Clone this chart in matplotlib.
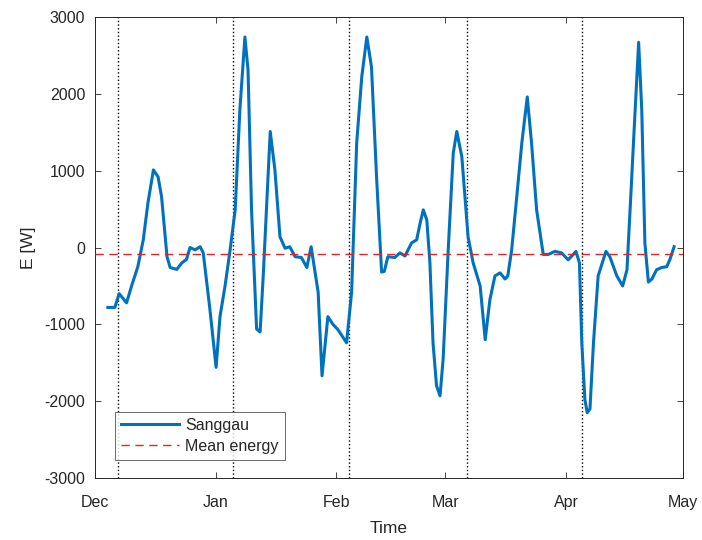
import matplotlib
matplotlib.use("Agg")
import matplotlib.pyplot as plt
import numpy as np
import datetime as dt

# Sampled energy series (days since 1 Dec) and values in W
day = [3.3, 5.1, 6.2, 8.1, 9.4, 11.0, 12.4, 13.6, 15.0, 16.2, 17.1, 18.5, 19.3, 21.0,
       22.3, 23.5, 24.4, 25.7, 27.0, 27.8, 29.5, 31.1, 32.1, 33.4, 34.7, 36.0, 37.2,
       38.5, 39.3, 40.2, 41.5, 42.4, 43.2, 45.0, 46.2, 47.5, 48.8, 50.0, 51.4, 53.0,
       54.4, 55.5, 57.3, 58.3, 59.8, 61.1, 62.4, 64.6, 65.9, 67.2, 68.5, 69.8, 71.0,
       72.3, 73.6, 74.3, 75.2, 77.0, 78.3, 79.6, 80.4, 81.3, 82.6, 83.5, 84.3, 85.2,
       86.0, 86.8, 87.7, 88.6, 89.4, 90.7, 92.0, 92.9, 94.2, 95.8, 97.1, 98.9, 100.2,
       101.4, 102.7, 104.0, 105.3, 106.0, 107.0, 108.3, 109.6, 111.0, 112.1, 113.4,
       115.1, 116.4, 118.1, 119.8, 121.5, 122.8, 123.5, 124.4, 125.0, 125.8, 126.4,
       127.1, 128.0, 129.2, 131.2, 132.2, 134.0, 135.5, 136.6, 137.4, 138.7, 139.6,
       140.4, 141.2, 142.1, 143.0, 144.2, 145.5, 146.8, 147.6, 148.7]
energy = [-780, -780, -600, -720, -500, -250, 100, 580, 1010, 920, 660, -120, -260, -285,
          -200, -155, 0, -30, 10, -70, -800, -1560, -900, -500, -30, 490, 1790,
          2740, 2310, 490, -1060, -1100, -370, 1510, 1010, 140, -10, 10, -120, -130,
          -260, 10, -580, -1670, -900, -1000, -1070, -1240, -580, 1360, 2220, 2740, 2350,
          920, -320, -310, -120, -130, -70, -110, -30, 60, 100, 320, 490, 360,
          -200, -1240, -1800, -1930, -1450, -30, 1230, 1510, 1180, 140, -200, -500, -1200,
          -680, -370, -330, -410, -370, -30, 660, 1360, 1960, 1360, 490,
          -90, -90, -50, -70, -160, -90, -50, -200, -1240, -1980, -2150,
          -2100, -1240, -370, -50, -120, -370, -500, -290, 490, 1790, 2670,
          1790, 60, -450, -410, -290, -260, -250, -160, 10]
mean_energy = -90
# Markers (days since 1 Dec) drawn as dotted verticals
event_days = [5.9, 35.5, 65.3, 95.4, 125.0]
month_labels = ["Dec", "Jan", "Feb", "Mar", "Apr", "May"]

start = dt.datetime(2016, 12, 1)
t = [start + dt.timedelta(days=d) for d in day]
events = [start + dt.timedelta(days=d) for d in event_days]
month_ticks = [dt.datetime(2016, 12, 1), dt.datetime(2017, 1, 1), dt.datetime(2017, 2, 1),
               dt.datetime(2017, 3, 1), dt.datetime(2017, 4, 1), dt.datetime(2017, 5, 1)]

plt.rcParams["font.family"] = ["Liberation Sans", "DejaVu Sans"]
text_col = (0.15, 0.15, 0.15)

fig = plt.figure(figsize=(7.02, 5.40), dpi=100)
ax = fig.add_axes([0.1353, 0.1148, 0.8377, 0.8537])

for e in events:
    ax.axvline(e, color="k", linestyle=":", linewidth=1.0, zorder=1)

ax.plot(t, energy, color="#0072BD", linewidth=2.2, label="Sanggau", zorder=3)
ax.plot([month_ticks[0], month_ticks[-1]], [mean_energy, mean_energy], color="#E8202A",
        linestyle=(0, (6, 4)), linewidth=1.0, label="Mean energy", zorder=4)

ax.set_xlim(month_ticks[0], month_ticks[-1])
ax.set_ylim(-3000, 3000)
ax.set_yticks(np.arange(-3000, 3001, 1000))
ax.set_yticklabels([str(v) for v in range(-3000, 3001, 1000)])
ax.set_xticks(month_ticks)
ax.set_xticklabels(month_labels)

ax.tick_params(direction="in", length=4, width=0.6, colors=text_col, labelsize=11.5,
               top=True, right=True)
ax.tick_params(axis="y", pad=7)
ax.tick_params(axis="x", pad=12)
for s in ax.spines.values():
    s.set_color(text_col)
    s.set_linewidth(0.7)

ax.set_xlabel("Time", fontsize=12.5, color=text_col, labelpad=8)
ax.set_ylabel("E [W]", fontsize=12.5, color=text_col, labelpad=6)

leg = ax.legend(loc="lower left", bbox_to_anchor=(0.034, 0.039), fontsize=11.5,
                handlelength=3.6, frameon=True, fancybox=False, borderaxespad=0,
                borderpad=0.4, labelspacing=0.35, handletextpad=0.4)
leg.get_frame().set_edgecolor(text_col)
leg.get_frame().set_linewidth(0.6)
for txt in leg.get_texts():
    txt.set_color(text_col)

fig.savefig("out.png", dpi=100)
